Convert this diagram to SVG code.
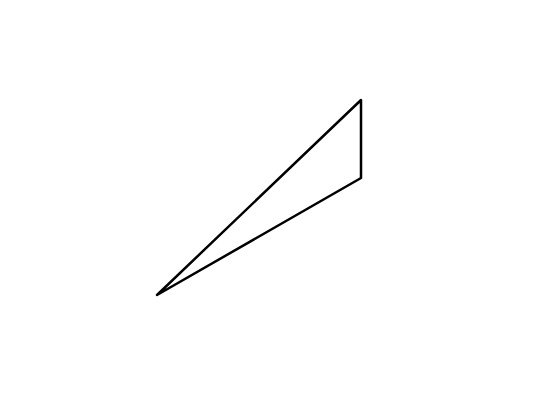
<svg xmlns="http://www.w3.org/2000/svg" width="540" height="407" viewBox="0 0 540 407">
<rect width="540" height="407" fill="#ffffff"/>
<polygon points="361,100 361,178 157,295" fill="none" stroke="#000000" stroke-width="2.5" stroke-linejoin="round"/>
</svg>
